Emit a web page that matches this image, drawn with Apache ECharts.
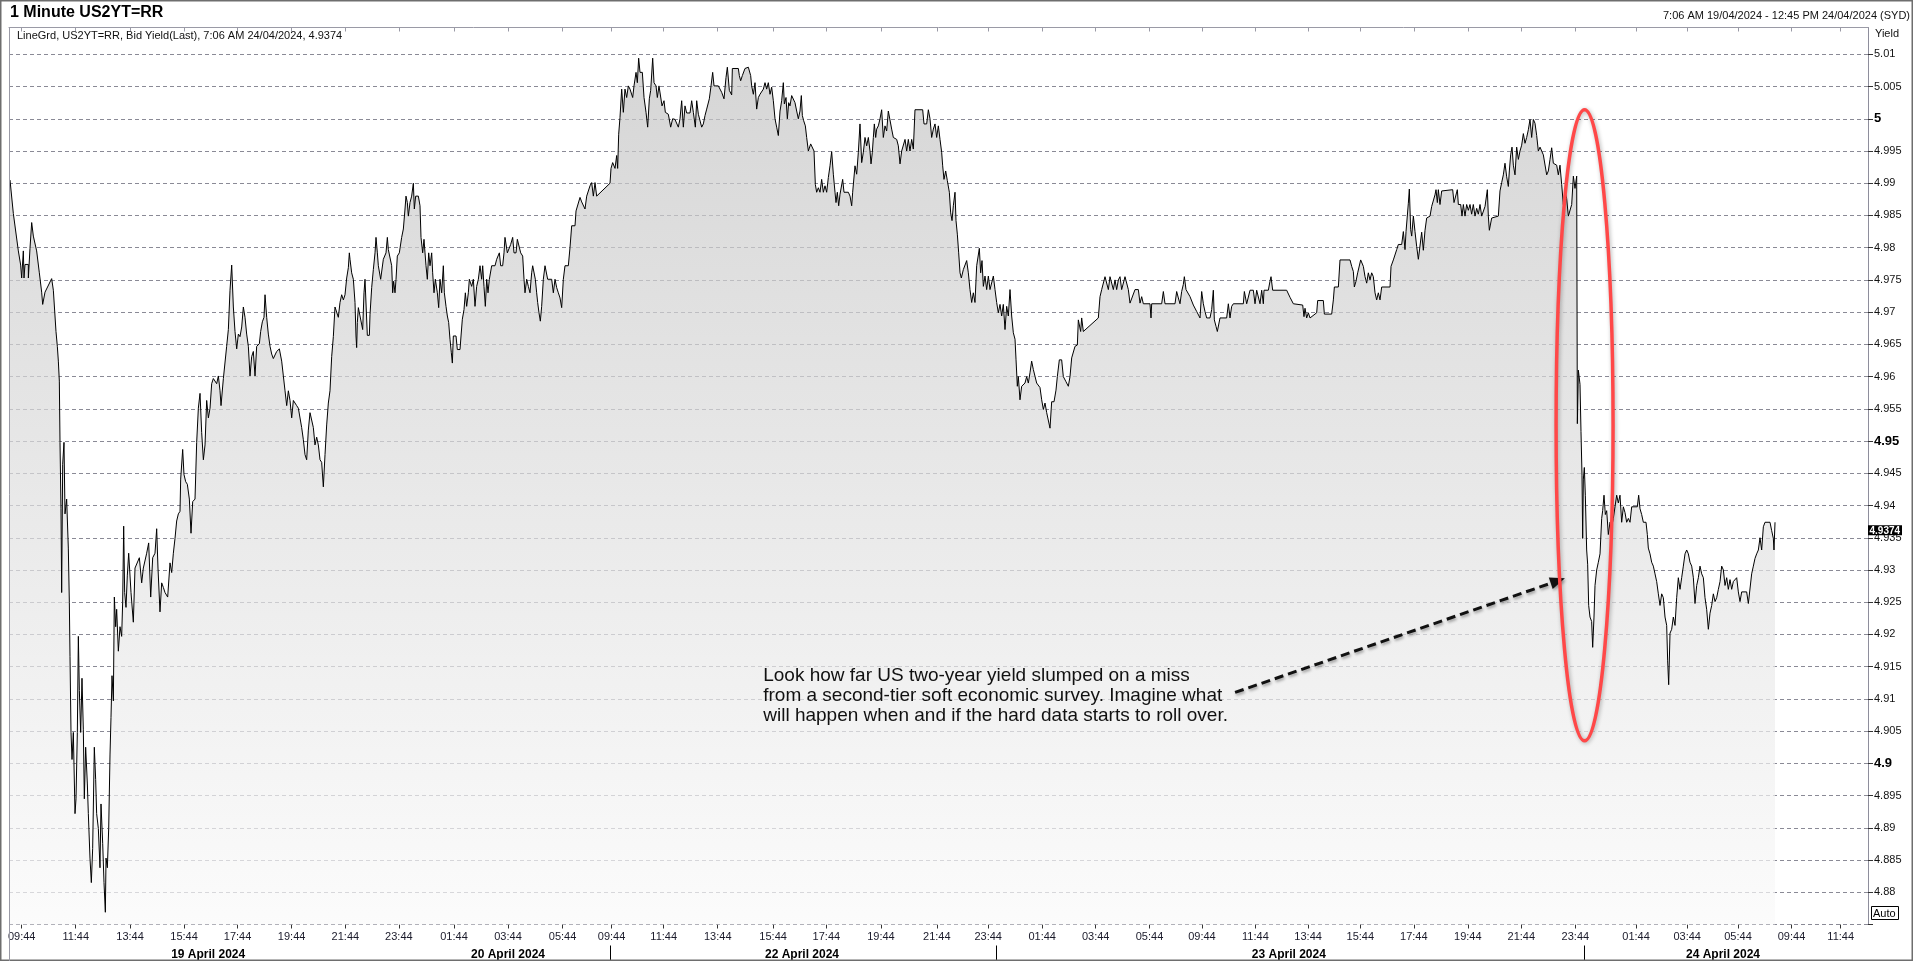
<!DOCTYPE html>
<html><head><meta charset="utf-8">
<script src="https://cdn.jsdelivr.net/npm/echarts@6/dist/echarts.min.js"></script>
<style>html,body{margin:0;padding:0;background:#fff}#c{width:1913px;height:961px}</style>
</head><body><div id="c"></div>
<script>
// x = trading hours from the first 09:44 tick, y = bid yield (%)
const seg19Apr = [[-0.437,4.9905],[-0.313,4.9853],[-0.126,4.9795],[-0.039,4.9773],[-0.001,4.9753],[0.061,4.9795],[0.086,4.9753],[0.123,4.9774],[0.248,4.9774],[0.249,4.9753],[0.310,4.9799],[0.373,4.9839],[0.435,4.9818],[0.497,4.9818],[0.559,4.9795],[0.659,4.9761],[0.746,4.9731],[0.784,4.9712],[0.871,4.9731],[0.933,4.9732],[1.120,4.9752],[1.183,4.9734],[1.245,4.9732],[1.282,4.967],[1.332,4.9647],[1.370,4.9624],[1.407,4.9593],[1.432,4.9498],[1.469,4.9395],[1.494,4.9265],[1.532,4.9464],[1.581,4.9498],[1.619,4.9387],[1.681,4.941],[1.743,4.9334],[1.781,4.925],[1.806,4.9166],[1.843,4.9048],[1.881,4.9006],[1.930,4.9048],[1.993,4.8922],[2.030,4.8945],[2.080,4.9048],[2.118,4.9197],[2.155,4.9113],[2.205,4.9048],[2.254,4.9132],[2.304,4.9052],[2.341,4.8945],[2.391,4.9025],[2.454,4.8968],[2.491,4.8922],[2.553,4.8853],[2.603,4.8815],[2.653,4.8868],[2.715,4.9025],[2.765,4.8975],[2.802,4.8922],[2.865,4.8899],[2.927,4.8838],[2.965,4.8937],[3.027,4.8876],[3.077,4.8815],[3.127,4.8769],[3.152,4.8853],[3.202,4.8838],[3.252,4.8899],[3.301,4.9013],[3.338,4.9071],[3.376,4.9136],[3.426,4.9097],[3.463,4.9258],[3.513,4.9212],[3.550,4.9239],[3.613,4.9174],[3.675,4.9212],[3.737,4.9197],[3.774,4.925],[3.812,4.9368],[3.849,4.9265],[3.899,4.9242],[3.949,4.9292],[3.999,4.9326],[4.049,4.9326],[4.086,4.9265],[4.136,4.9265],[4.173,4.9219],[4.236,4.9303],[4.298,4.9303],[4.398,4.9319],[4.485,4.928],[4.547,4.9303],[4.672,4.9326],[4.747,4.9342],[4.822,4.9258],[4.897,4.9319],[4.983,4.9326],[5.046,4.9364],[5.095,4.9303],[5.170,4.9235],[5.233,4.928],[5.295,4.9273],[5.357,4.9265],[5.457,4.9258],[5.544,4.9311],[5.607,4.9296],[5.669,4.9326],[5.731,4.9349],[5.793,4.9376],[5.856,4.9387],[5.918,4.9391],[5.943,4.9441],[6.018,4.9487],[6.067,4.9448],[6.130,4.9437],[6.192,4.9433],[6.267,4.941],[6.329,4.9357],[6.392,4.9406],[6.479,4.941],[6.541,4.9498],[6.604,4.9551],[6.666,4.9574],[6.728,4.9513],[6.791,4.9471],[6.853,4.9494],[6.915,4.9563],[6.978,4.9536],[7.040,4.9551],[7.102,4.9589],[7.164,4.9597],[7.289,4.9589],[7.352,4.9601],[7.414,4.9578],[7.451,4.9555],[7.539,4.9597],[7.601,4.9597],[7.662,4.9647],[7.725,4.9673],[7.787,4.9734],[7.850,4.9773],[7.912,4.9708],[7.974,4.967],[8.037,4.9643],[8.099,4.9666],[8.161,4.9662],[8.224,4.9677],[8.286,4.9708],[8.348,4.9692],[8.410,4.9666],[8.473,4.9647],[8.535,4.9601],[8.597,4.9631],[8.659,4.9639],[8.722,4.9601],[8.784,4.9647],[8.884,4.9651],[8.933,4.967],[8.996,4.9685],[9.058,4.9692],[9.096,4.9727],[9.158,4.9692],[9.220,4.9666],[9.283,4.9647],[9.345,4.9635],[9.407,4.9628],[9.532,4.9639],[9.632,4.9643],[9.719,4.9624],[9.781,4.9601],[9.844,4.9578],[9.906,4.9555],[9.968,4.9578],[10.030,4.9563],[10.093,4.9536],[10.155,4.9563],[10.279,4.9555],[10.342,4.9551],[10.466,4.9521],[10.529,4.9502],[10.591,4.9479],[10.653,4.9471],[10.715,4.9517],[10.778,4.9544],[10.902,4.9521],[10.964,4.9494],[11.027,4.9506],[11.089,4.9494],[11.152,4.9471],[11.214,4.9467],[11.276,4.9429],[11.339,4.9479],[11.401,4.9525],[11.463,4.9559],[11.525,4.9578],[11.588,4.9631],[11.650,4.9662],[11.712,4.9708],[11.775,4.9708],[11.837,4.9692],[11.899,4.9715],[11.962,4.9727],[12.024,4.9719],[12.086,4.9727],[12.149,4.9753],[12.211,4.9769],[12.248,4.9792],[12.273,4.9782],[12.335,4.9761],[12.398,4.9751],[12.460,4.9715],[12.497,4.9663],[12.522,4.9645],[12.547,4.9684],[12.585,4.9707],[12.647,4.9694],[12.747,4.9673],[12.796,4.973],[12.834,4.9751],[12.871,4.9751],[12.921,4.9664],[12.996,4.9664],[13.021,4.9696],[13.083,4.9738],[13.145,4.9766],[13.208,4.9792],[13.245,4.9816],[13.295,4.9792],[13.332,4.9772],[13.395,4.9772],[13.419,4.9751],[13.482,4.9751],[13.519,4.9782],[13.619,4.9792],[13.669,4.9816],[13.706,4.9797],[13.768,4.98],[13.831,4.9772],[13.868,4.973],[13.905,4.9748],[13.955,4.973],[13.993,4.9751],[14.042,4.9787],[14.117,4.9792],[14.204,4.9816],[14.267,4.9829]];
const seg20Apr = [[14.329,4.986],[14.366,4.988],[14.416,4.987],[14.454,4.9849],[14.516,4.987],[14.578,4.988],[14.641,4.99],[14.678,4.986],[14.728,4.988],[14.828,4.988],[14.890,4.9865],[14.927,4.9816],[14.990,4.9792],[15.039,4.9813],[15.077,4.9792],[15.114,4.9772],[15.164,4.9751],[15.214,4.9792],[15.264,4.9772],[15.326,4.9792],[15.363,4.9761],[15.413,4.973],[15.463,4.9751],[15.538,4.973],[15.588,4.9707],[15.637,4.9751],[15.700,4.973],[15.762,4.9772],[15.800,4.973],[15.862,4.9709],[15.912,4.9694],[15.961,4.9684],[16.011,4.9658],[16.061,4.9637],[16.099,4.9621],[16.136,4.9663],[16.236,4.9663],[16.285,4.9642],[16.385,4.9642],[16.423,4.9663],[16.472,4.9689],[16.535,4.9704],[16.585,4.973],[16.634,4.9709],[16.697,4.973],[16.734,4.9751],[16.821,4.974],[16.884,4.9751],[16.946,4.9709],[17.008,4.974],[17.071,4.9751],[17.133,4.9772],[17.195,4.9751],[17.233,4.9772],[17.282,4.974],[17.332,4.9709],[17.382,4.9751],[17.432,4.973],[17.482,4.9751],[17.569,4.9772],[17.694,4.9772],[17.756,4.9782],[17.856,4.9792],[17.905,4.9772],[17.980,4.9772],[18.030,4.9792],[18.067,4.9816],[18.130,4.9816],[18.155,4.9792],[18.229,4.9792],[18.279,4.9805],[18.354,4.9816],[18.404,4.9792],[18.479,4.9792],[18.528,4.9813],[18.591,4.9816],[18.653,4.9792],[18.728,4.9787],[18.778,4.9751],[18.815,4.973],[18.877,4.9751],[18.940,4.974],[19.002,4.973],[19.064,4.9761],[19.102,4.9772],[19.152,4.9772],[19.201,4.9751],[19.251,4.973],[19.288,4.9715],[19.338,4.9699],[19.388,4.9686],[19.438,4.9709],[19.500,4.9751],[19.563,4.9772],[19.625,4.9772],[19.662,4.9751],[19.812,4.9751],[19.874,4.973],[19.937,4.9751],[19.999,4.9738],[20.061,4.973],[20.124,4.9722],[20.186,4.9707],[20.248,4.9751],[20.310,4.9772],[20.435,4.9772],[20.497,4.98],[20.560,4.9834],[20.684,4.9834],[20.722,4.9857],[20.772,4.986],[20.871,4.9878],[20.934,4.9871],[20.996,4.987],[21.058,4.986],[21.121,4.988],[21.183,4.988],[21.245,4.9896],[21.307,4.9901],[21.370,4.988],[21.432,4.9901],[21.494,4.988],[21.557,4.988]];
const seg22Apr = [[21.993,4.99],[22.030,4.9923],[22.092,4.9932],[22.180,4.9923],[22.242,4.9943],[22.279,4.9923],[22.317,4.9976],[22.366,5.0002],[22.429,5.0046],[22.491,5.001],[22.553,5.0046],[22.616,5.0033],[22.678,5.0051],[22.740,5.0046],[22.840,5.0033],[22.890,5.0051],[22.965,5.0072],[23.014,5.0056],[23.064,5.0094],[23.114,5.0072],[23.201,5.0072],[23.264,5.0033],[23.339,5.001],[23.401,4.9987],[23.463,5.0031],[23.513,5.0044],[23.588,5.0094],[23.638,5.0056],[23.712,5.0051],[23.762,5.0033],[23.824,5.0051],[23.887,5.0051],[23.937,5.002],[24.011,5.0028],[24.061,5.001],[24.173,5.0007],[24.260,4.9987],[24.335,5.0],[24.422,4.9999],[24.547,4.9987],[24.609,5.0],[24.672,5.0028],[24.734,4.9987],[24.796,5.002],[24.859,5.0009],[24.983,5.0009],[25.046,5.0028],[25.108,5.001],[25.183,4.9987],[25.233,5.0028],[25.295,5.0007],[25.357,5.0007],[25.420,4.9987],[25.482,4.9992],[25.544,5.0005],[25.607,5.0015],[25.706,5.0031],[25.769,5.0051],[25.831,5.0072],[25.881,5.0051],[26.043,5.0051],[26.167,5.0041],[26.254,5.0031],[26.329,5.0064],[26.379,5.008],[26.454,5.0044],[26.541,5.0037],[26.566,5.0078],[26.790,5.0078],[26.827,5.0067],[26.877,5.0059],[26.940,5.0067],[27.039,5.0078],[27.164,5.008],[27.226,5.0078],[27.251,5.0067],[27.288,5.0051],[27.351,5.0038],[27.413,5.0056],[27.475,5.0015],[27.538,5.0033],[27.600,5.0038],[27.662,5.0036],[27.725,5.0046],[27.787,5.0056],[27.849,5.0046],[27.911,5.0056],[27.974,5.0038],[28.036,5.0049],[28.098,5.0028],[28.161,5.0],[28.223,4.9987],[28.285,4.9974],[28.348,5.0012],[28.410,5.0028],[28.472,5.0056],[28.510,5.0023],[28.572,5.0033],[28.622,5.0],[28.672,5.0025],[28.721,5.002],[28.784,5.0036],[28.846,5.0036],[28.908,5.0025],[28.971,5.0012],[29.033,5.0],[29.095,5.0012],[29.145,5.0036],[29.183,5.0005],[29.232,4.9997],[29.295,4.9989],[29.344,4.9971],[29.407,4.995],[29.494,4.9961],[29.619,4.995],[29.669,4.9898],[29.718,4.9886],[29.781,4.9893],[29.843,4.9886],[29.905,4.9906],[29.968,4.9886],[30.030,4.9896],[30.092,4.9886],[30.155,4.9909],[30.217,4.9927],[30.279,4.9949],[30.341,4.9914],[30.404,4.9886],[30.441,4.987],[30.491,4.9886],[30.541,4.9865],[30.591,4.9883],[30.640,4.988],[30.690,4.9906],[30.740,4.9886],[30.902,4.9886],[30.965,4.988],[31.027,4.9865],[31.064,4.9886],[31.151,4.9927],[31.214,4.9914],[31.276,4.9948],[31.338,4.9992],[31.401,4.9932],[31.463,4.9948],[31.525,4.9971],[31.588,4.9958],[31.650,4.9971],[31.712,4.995],[31.750,4.993],[31.799,4.9948],[31.837,4.9971],[31.874,4.9992],[31.924,4.9971],[31.961,4.9984],[32.024,4.9989],[32.086,5.0],[32.148,5.0014],[32.210,4.9971],[32.273,4.9989],[32.335,4.9981],[32.397,5.0012],[32.460,5.0014],[32.522,4.9984],[32.584,4.9971],[32.709,4.9968],[32.771,4.9958],[32.834,4.993],[32.896,4.995],[32.958,4.9953],[33.021,4.9968],[33.083,4.995],[33.145,4.9968],[33.207,4.995],[33.270,4.9968],[33.332,4.9953],[33.394,5.0014],[33.681,5.0014],[33.731,4.9992],[33.831,4.9992],[33.893,5.0014],[33.955,5.0],[34.017,4.9971],[34.080,4.9984],[34.142,4.9992],[34.204,4.9971],[34.267,4.9989],[34.329,4.9968],[34.391,4.9948],[34.429,4.9927],[34.478,4.9906],[34.541,4.9919],[34.603,4.9904],[34.678,4.9886],[34.728,4.9854],[34.778,4.9842],[34.827,4.9865],[34.890,4.9886],[34.927,4.9842],[34.977,4.9821],[35.027,4.9792],[35.077,4.9761],[35.126,4.9753],[35.201,4.9766],[35.326,4.978],[35.388,4.9761],[35.450,4.9735],[35.513,4.9715],[35.575,4.973],[35.637,4.9715],[35.700,4.9772],[35.799,4.9799],[35.849,4.9761],[35.899,4.978],[35.949,4.974],[36.011,4.9756],[36.073,4.9735],[36.136,4.9756],[36.198,4.9735],[36.323,4.9756],[36.385,4.9735]];
const seg23Apr = [[36.447,4.9715],[36.509,4.9699],[36.572,4.9712],[36.634,4.9694],[36.696,4.9712],[36.759,4.9673],[36.821,4.9709],[36.883,4.9694],[36.946,4.9735],[37.008,4.9694],[37.070,4.9668],[37.133,4.9658],[37.170,4.9627],[37.220,4.9585],[37.257,4.96],[37.319,4.9564],[37.382,4.9585],[37.506,4.959],[37.569,4.96],[37.631,4.959],[37.693,4.9606],[37.755,4.9624],[37.818,4.9611],[37.942,4.959],[38.067,4.9583],[38.130,4.9564],[38.192,4.9549],[38.254,4.9559],[38.317,4.9544],[38.379,4.9541],[38.441,4.952],[38.503,4.9561],[38.591,4.9561],[38.665,4.9579],[38.715,4.96],[38.790,4.9626],[38.877,4.9626],[38.939,4.96],[39.039,4.9592],[39.126,4.9585],[39.189,4.96],[39.251,4.9629],[39.376,4.9647],[39.463,4.9649],[39.500,4.9688],[39.563,4.9691],[39.587,4.967],[39.625,4.9691],[39.687,4.967],[40.248,4.9691],[40.310,4.9724],[40.373,4.9735],[40.435,4.9735],[40.497,4.9755],[40.559,4.9755],[40.622,4.9735],[40.684,4.9755],[40.746,4.9755],[40.809,4.9735],[40.871,4.975],[40.933,4.9735],[40.996,4.975],[41.058,4.9755],[41.120,4.9735],[41.245,4.9755],[41.307,4.9755],[41.369,4.9735],[41.432,4.9714],[41.619,4.9735],[41.743,4.9735],[41.806,4.9714],[41.868,4.9724],[41.930,4.9713],[42.179,4.9713],[42.217,4.9691],[42.242,4.9713],[42.615,4.9713],[42.678,4.9732],[42.740,4.9713],[43.114,4.9713],[43.176,4.9732],[43.239,4.9722],[43.301,4.9713],[43.363,4.9732],[43.425,4.9743],[43.463,4.9755],[43.525,4.9735],[43.675,4.9724],[43.799,4.9711],[43.924,4.9701],[44.049,4.9691],[44.111,4.9732],[44.173,4.9713],[44.235,4.9701],[44.298,4.9691],[44.422,4.9691],[44.485,4.9704],[44.547,4.9734],[44.584,4.9688],[44.647,4.9678],[44.696,4.967],[44.796,4.9691],[45.045,4.9691],[45.108,4.9713],[45.170,4.9691],[45.232,4.9709],[45.295,4.9713],[45.668,4.9713],[45.706,4.9732],[45.793,4.9713],[45.918,4.9734],[46.042,4.9734],[46.105,4.9713],[46.167,4.9734],[46.229,4.9734],[46.292,4.9713],[46.354,4.9734],[46.416,4.9713],[46.441,4.9734],[46.603,4.9734],[46.665,4.9748],[46.703,4.9755],[46.765,4.9734],[47.288,4.9734],[47.413,4.9723],[47.538,4.9713],[47.887,4.9711],[47.936,4.9693],[47.974,4.9706],[48.036,4.9691],[48.098,4.9699],[48.161,4.9691],[48.223,4.9691],[48.410,4.9699],[48.447,4.9718],[48.659,4.9718],[48.697,4.9697],[48.971,4.9697],[49.033,4.9719],[49.071,4.9739],[49.220,4.9739],[49.282,4.9781],[49.656,4.9781],[49.719,4.9771],[49.781,4.9763],[49.818,4.9739],[49.880,4.9748],[49.943,4.9761],[50.005,4.9761],[50.055,4.9781],[50.117,4.9781],[50.155,4.9771],[50.217,4.9755],[50.279,4.9745],[50.341,4.9761],[50.404,4.975],[50.466,4.9761],[50.528,4.9755],[50.591,4.973],[50.653,4.9719],[50.715,4.973],[50.778,4.9719],[50.840,4.9739],[51.152,4.9739],[51.189,4.9771],[51.276,4.9781],[51.338,4.9781],[51.401,4.9797],[51.463,4.9805],[51.588,4.9805],[51.650,4.9825],[51.712,4.9797],[51.750,4.9825],[51.837,4.9869],[51.874,4.9891],[51.924,4.9828],[51.962,4.9818],[52.024,4.9849],[52.086,4.9825],[52.148,4.9802],[52.211,4.9782],[52.273,4.9784],[52.335,4.9824],[52.397,4.9796],[52.460,4.9827],[52.522,4.9846],[52.647,4.9849],[52.709,4.9864],[52.771,4.9867],[52.833,4.9882],[52.871,4.989],[52.921,4.987],[52.958,4.989],[53.020,4.9867],[53.083,4.9888],[53.145,4.989],[53.494,4.989],[53.544,4.987],[53.618,4.9867],[53.668,4.989],[53.706,4.9867],[53.793,4.9867],[53.843,4.9849],[53.893,4.9867],[53.955,4.9849],[54.017,4.9867],[54.080,4.9858],[54.142,4.9867],[54.204,4.9852],[54.266,4.9867],[54.329,4.9849],[54.391,4.9861],[54.453,4.9852],[54.516,4.9867],[54.578,4.9849],[54.703,4.9864],[54.790,4.989],[54.827,4.9849],[54.865,4.9827],[54.952,4.9846],[55.201,4.9849],[55.263,4.9888],[55.326,4.9901],[55.388,4.9913],[55.450,4.9931],[55.513,4.991],[55.575,4.9895],[55.612,4.9919],[55.662,4.9944],[55.712,4.9956],[55.762,4.9928],[55.824,4.9913],[55.886,4.9956],[55.949,4.9937],[56.011,4.995],[56.073,4.9959],[56.136,4.9977],[56.198,4.9962],[56.260,4.9971],[56.323,4.9983],[56.385,4.9999],[56.447,4.9971],[56.509,4.9999],[56.572,4.9993],[56.634,4.9974],[56.696,4.995],[56.759,4.9956],[56.883,4.9944],[56.946,4.9944],[57.008,4.9913],[57.070,4.9919],[57.133,4.9937],[57.195,4.9955],[57.257,4.9931],[57.382,4.9928],[57.444,4.9913],[57.506,4.9928],[57.569,4.9898],[57.631,4.9867],[57.693,4.9888],[57.756,4.9876],[57.818,4.9849],[57.880,4.9849],[57.943,4.9867],[58.005,4.9911],[58.067,4.9892],[58.130,4.9911]];
const seg24Apr = [[58.155,4.9527],[58.192,4.961],[58.229,4.9607],[58.254,4.9588],[58.291,4.9515],[58.329,4.9447],[58.354,4.9349],[58.379,4.9441],[58.416,4.9459],[58.453,4.9416],[58.503,4.9331],[58.540,4.9309],[58.578,4.9245],[58.628,4.9227],[58.690,4.922],[58.728,4.918],[58.777,4.9227],[58.815,4.9276],[58.877,4.93],[58.939,4.9312],[59.002,4.9325],[59.064,4.938],[59.101,4.9392],[59.151,4.9416],[59.201,4.9386],[59.251,4.9392],[59.313,4.9355],[59.375,4.9374],[59.438,4.9367],[59.500,4.938],[59.562,4.9398],[59.625,4.9416],[59.687,4.9404],[59.749,4.9416],[59.812,4.9374],[59.874,4.9398],[59.936,4.9389],[59.999,4.9374],[60.061,4.938],[60.123,4.9374],[60.186,4.9398],[60.397,4.9398],[60.447,4.9416],[60.497,4.9395],[60.559,4.9386],[60.622,4.9374],[60.721,4.9374],[60.771,4.9355],[60.808,4.9334],[60.871,4.9325],[60.933,4.9312],[60.995,4.9306],[61.058,4.9294],[61.120,4.9282],[61.182,4.9263],[61.245,4.9245],[61.307,4.9263],[61.369,4.9257],[61.432,4.9227],[61.494,4.9214],[61.531,4.9159],[61.569,4.9122],[61.619,4.9202],[61.681,4.9208],[61.743,4.9227],[61.806,4.9214],[61.868,4.9257],[61.930,4.9288],[61.993,4.927],[62.055,4.9288],[62.117,4.9306],[62.180,4.9325],[62.242,4.9331],[62.304,4.9325],[62.366,4.9312],[62.429,4.9306],[62.491,4.9288],[62.553,4.9248],[62.616,4.9276],[62.678,4.9288],[62.740,4.9306],[62.803,4.9294],[62.865,4.9288],[62.927,4.9257],[62.989,4.9239],[63.052,4.9208],[63.114,4.9233],[63.176,4.9245],[63.239,4.9263],[63.301,4.9251],[63.363,4.9257],[63.426,4.927],[63.488,4.9282],[63.550,4.9306],[63.613,4.93],[63.675,4.9276],[63.737,4.9288],[63.799,4.927],[63.862,4.9285],[63.924,4.927],[63.986,4.9282],[64.111,4.9288],[64.173,4.9266],[64.235,4.9251],[64.298,4.9266],[64.484,4.9266],[64.547,4.9248],[64.609,4.9251],[64.671,4.9294],[64.734,4.9306],[64.796,4.9318],[64.858,4.9325],[64.921,4.9331],[64.983,4.935],[65.045,4.9331],[65.108,4.9367],[65.170,4.9374],[65.357,4.9374],[65.419,4.9361],[65.481,4.9349],[65.506,4.9331],[65.544,4.9374]];

const timeTickPos = [0,2.02,4.05,6.07,8.07,10.09,12.10,14.10,16.16,18.18,20.22,22.05,24.0,26.02,28.09,30.08,32.12,34.21,36.13,38.15,40.15,42.16,44.12,46.12,48.09,50.04,52.04,54.06,56.06,58.08,60.35,62.26,64.16,66.16,68.0];
const timeTickLabels = ['09:44','11:44','13:44','15:44','17:44','19:44','21:44','23:44','01:44','03:44','05:44','09:44','11:44','13:44','15:44','17:44','19:44','21:44','23:44','01:44','03:44','05:44','09:44','11:44','13:44','15:44','17:44','19:44','21:44','23:44','01:44','03:44','05:44','09:44','11:44'];
const dayLabelPos = [6.97,18.18,29.17,47.37,63.6];
const dayLabels = ['19 April 2024','20 April 2024','22 April 2024','23 April 2024','24 April 2024'];
const daySeparators = [21.99,36.42,58.4];
const yTickValues = [4.875,4.88,4.885,4.89,4.895,4.9,4.905,4.91,4.915,4.92,4.925,4.93,4.935,4.94,4.945,4.95,4.955,4.96,4.965,4.97,4.975,4.98,4.985,4.99,4.995,5.0,5.005,5.01];
const yLabelValues = [4.88,4.885,4.89,4.895,4.9,4.905,4.91,4.915,4.92,4.925,4.93,4.935,4.94,4.945,4.95,4.955,4.96,4.965,4.97,4.975,4.98,4.985,4.99,4.995,5.0,5.005,5.01];
const lastValue = 4.9374;

const noteLines = ['Look how far US two-year yield slumped on a miss','from a second-tier soft economic survey. Imagine what','will happen when and if the hard data starts to roll over.'];
const noteAnchor = [27.72, 4.9151];
const arrowFrom = [45.36, 4.9110];
const arrowTo = [57.69, 4.9287];
const ellipseBox = [57.36, 5.0014, 59.49, 4.9035];

const X_MIN = -0.4748, X_MAX = 69.02, Y_MIN = 4.875, Y_MAX = 5.01416;
const FONT = "'Liberation Sans', Arial, sans-serif";
const series = seg19Apr.concat(seg20Apr, seg22Apr, seg23Apr, seg24Apr);

function nearestLabel(pos, labels, v) {
  let best = 0, bd = Infinity;
  for (let i = 0; i < pos.length; i++) { const d = Math.abs(pos[i] - v); if (d < bd) { bd = d; best = i; } }
  return labels[best];
}

const chart = echarts.init(document.getElementById('c'), null, {renderer: 'canvas'});
const option = {
  animation: false,
  backgroundColor: '#ffffff',
  textStyle: {fontFamily: FONT},
  title: [
    {text: '1 Minute US2YT=RR', left: 10, top: 5, padding: 0, textStyle: {fontSize: 16, fontWeight: 'bold', color: '#000', fontFamily: FONT}},
    {text: 'LineGrd, US2YT=RR, Bid Yield(Last), 7:06 AM 24/04/2024, 4.9374', left: 17, top: 30, padding: 0, textStyle: {fontSize: 11, fontWeight: 'normal', color: '#111', fontFamily: FONT}},
    {text: '7:06 AM 19/04/2024 - 12:45 PM 24/04/2024 (SYD)', right: 3, top: 10, padding: 0, textStyle: {fontSize: 11, fontWeight: 'normal', color: '#111', fontFamily: FONT}},
    {text: 'Yield', left: 1875, top: 28, padding: 0, textStyle: {fontSize: 11, fontWeight: 'normal', color: '#111', fontFamily: FONT}}
  ],
  grid: {left: 9, right: 45, top: 27.5, bottom: 36.5, show: false},
  xAxis: [
    {type: 'value', min: X_MIN, max: X_MAX, position: 'bottom',
     axisLine: {show: false, onZero: false}, splitLine: {show: false},
     axisTick: {show: true, customValues: timeTickPos, length: 4, lineStyle: {color: '#333'}},
     axisLabel: {customValues: timeTickPos, margin: 7, fontSize: 11, color: '#1a1a2a', fontFamily: FONT,
       formatter: v => nearestLabel(timeTickPos, timeTickLabels, v)}},
    {type: 'value', min: X_MIN, max: X_MAX, position: 'bottom', offset: 21,
     axisLine: {show: false, onZero: false}, splitLine: {show: false},
     axisTick: {show: true, customValues: daySeparators, length: 15, lineStyle: {color: '#000'}},
     axisLabel: {customValues: dayLabelPos, margin: 3, fontSize: 12, fontWeight: 'bold', color: '#000', fontFamily: FONT,
       formatter: v => nearestLabel(dayLabelPos, dayLabels, v)}},
    {type: 'value', min: X_MIN, max: X_MAX, position: 'top',
     axisLine: {show: true, onZero: false, lineStyle: {color: '#9a9aa6', width: 1}}, splitLine: {show: false},
     axisTick: {show: true, inside: true, customValues: timeTickPos, length: 4, lineStyle: {color: '#9a9aa6'}},
     axisLabel: {show: false}}
  ],
  yAxis: {type: 'value', position: 'right', min: Y_MIN, max: Y_MAX,
    axisLine: {show: true, onZero: false, lineStyle: {color: '#8e8e9c', width: 1}},
    axisTick: {show: true, customValues: yTickValues, length: 5, lineStyle: {color: '#333'}},
    axisLabel: {customValues: yLabelValues, margin: 6, fontSize: 11, color: '#111', fontFamily: FONT,
      formatter: v => { const s = String(parseFloat(v.toFixed(3))); return Math.abs(v * 20 - Math.round(v * 20)) < 1e-6 ? '{b|' + s + '}' : s; },
      rich: {b: {fontSize: 13, fontWeight: 'bold', color: '#000', fontFamily: FONT}}},
    splitLine: {show: true, lineStyle: {type: [4, 3], color: '#8a8a96', width: 1}}},
  series: [{
    type: 'line', data: series, showSymbol: false, symbol: 'none', clip: true,
    lineStyle: {color: '#000', width: 1},
    areaStyle: {origin: 'start', color: new echarts.graphic.LinearGradient(0, 0, 0, 1, [{offset: 0, color: '#c4c4c4'}, {offset: 1, color: '#fafafa'}])}
  }]
};
chart.setOption(option);

const px = p => chart.convertToPixel({xAxisIndex: 0, yAxisIndex: 0}, p);
const a0 = px(noteAnchor), f = px(arrowFrom), t = px(arrowTo);
const e0 = px([ellipseBox[0], ellipseBox[1]]), e1 = px([ellipseBox[2], ellipseBox[3]]);
const lv = px([X_MAX, lastValue]);
const ang = Math.atan2(t[1] - f[1], t[0] - f[0]);
const hl = 15, hw = 6;
const head = [
  [t[0], t[1]],
  [t[0] - hl * Math.cos(ang) + hw * Math.sin(ang), t[1] - hl * Math.sin(ang) - hw * Math.cos(ang)],
  [t[0] - hl * Math.cos(ang) - hw * Math.sin(ang), t[1] - hl * Math.sin(ang) + hw * Math.cos(ang)]
];
const shaftEnd = [t[0] - (hl - 2) * Math.cos(ang), t[1] - (hl - 2) * Math.sin(ang)];
chart.setOption({
  graphic: [
    {type: 'rect', silent: true, shape: {x: 0.5, y: 0.5, width: 1912, height: 960}, style: {fill: 'none', stroke: '#6e6e6e', lineWidth: 2}, z: 100},
    {type: 'line', silent: true, shape: {x1: 9.5, y1: 27.5, x2: 9.5, y2: 961}, style: {stroke: '#9a9aa6', lineWidth: 1}, z: 100},
    {type: 'rect', silent: true, shape: {x: 1871.5, y: 906.5, width: 27, height: 13}, style: {fill: '#fff', stroke: '#000', lineWidth: 1}, z: 100},
    {type: 'text', silent: true, x: 1873, y: 908, style: {text: 'Auto', font: '11px ' + FONT, fill: '#000'}, z: 101},
    {type: 'rect', silent: true, shape: {x: lv[0], y: lv[1] + 3, width: 34, height: 10}, style: {fill: '#000'}, z: 100},
    {type: 'text', silent: true, x: lv[0] + 1.5, y: lv[1] + 3.5, style: {text: String(lastValue), font: 'bold 10px ' + FONT, fill: '#fff'}, z: 101},
    {type: 'text', silent: true, x: a0[0], y: a0[1], style: {text: noteLines.join('\n'), font: '19px ' + FONT, fill: '#111', lineHeight: 20}, z: 100},
    {type: 'line', silent: true, shape: {x1: f[0], y1: f[1], x2: shaftEnd[0], y2: shaftEnd[1]},
     style: {stroke: '#111', lineWidth: 3, lineDash: [9, 5], shadowBlur: 3, shadowColor: 'rgba(0,0,0,0.35)', shadowOffsetX: 1, shadowOffsetY: 2}, z: 100},
    {type: 'polygon', silent: true, shape: {points: head}, style: {fill: '#111', shadowBlur: 3, shadowColor: 'rgba(0,0,0,0.35)', shadowOffsetX: 1, shadowOffsetY: 2}, z: 100},
    {type: 'ellipse', silent: true, shape: {cx: (e0[0] + e1[0]) / 2, cy: (e0[1] + e1[1]) / 2, rx: Math.abs(e1[0] - e0[0]) / 2, ry: Math.abs(e1[1] - e0[1]) / 2},
     style: {fill: 'none', stroke: '#ff4848', lineWidth: 3.5, shadowBlur: 4, shadowColor: 'rgba(0,0,0,0.3)', shadowOffsetX: 1, shadowOffsetY: 1}, z: 100}
  ]
});
</script></body></html>
